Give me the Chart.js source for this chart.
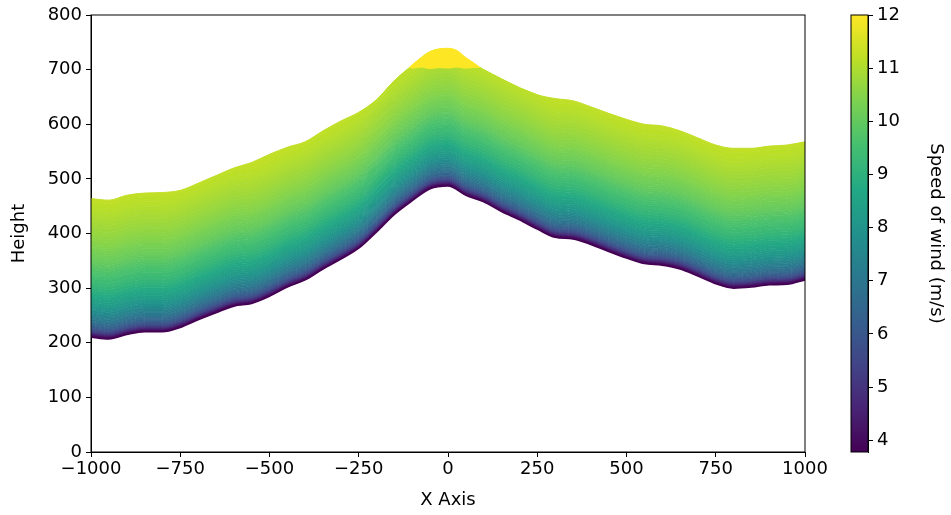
<!DOCTYPE html>
<html>
<head>
<meta charset="utf-8">
<script src="https://cdn.jsdelivr.net/npm/chart.js@4.4.1/dist/chart.umd.min.js"></script>
<style>
  body { margin: 0; background: #fff; }
  #wrap { position: relative; width: 951px; height: 515px; }
  #wrap canvas { position: absolute; left: 0; top: 0; }
</style>
</head>
<body>
<div id="wrap">
  <canvas id="main" width="951" height="515"></canvas>
  <canvas id="cbar" width="951" height="515"></canvas>
</div>
<script>
// horizontal positions along the section
const xs = [-1000, -950, -900, -850, -800, -750, -700, -650, -600, -550, -500, -450, -400, -350, -300,
  -250, -200, -150, -100, -50, 0, 50, 100, 150, 200, 250, 300, 350, 400, 450, 500,
  550, 600, 650, 700, 750, 800, 850, 900, 950, 1000];
// terrain (bottom of the coloured field)
const ground = [210, 207, 215, 220, 220, 228, 242, 255, 267, 272, 285, 302, 315, 335, 353,
  373, 403, 435, 460, 482, 487, 470, 458, 440, 425, 408, 393, 390, 380, 367, 355,
  345, 342, 335, 322, 308, 300, 302, 306, 307, 315];
// top of the coloured field
const topEdge = [464, 461, 470, 474, 475, 479, 492, 506, 520, 530, 545, 558, 568, 588, 606,
  622, 645, 680, 708, 733, 738, 720, 700, 683, 667, 654, 647, 643, 632, 620, 609,
  600, 597, 588, 575, 562, 556, 556, 560, 562, 568];

// wind speed contour levels (m/s) and their height above the ground
const windLevels = [4.0, 4.125, 4.25, 4.375, 4.5, 4.625, 4.75, 4.875, 5.0, 5.125, 5.25, 5.375,
  5.5, 5.625, 5.75, 5.875, 6.0, 6.125, 6.25, 6.375, 6.5, 6.625, 6.75, 6.875, 7.0, 7.125, 7.25,
  7.375, 7.5, 7.625, 7.75, 7.875, 8.0, 8.125, 8.25, 8.375, 8.5, 8.625, 8.75, 8.875, 9.0, 9.125,
  9.25, 9.375, 9.5, 9.5625, 9.625, 9.6875, 9.75, 9.8125, 9.875, 9.9375, 10.0, 10.0625, 10.125,
  10.1875, 10.25, 10.3125, 10.375, 10.4375, 10.5, 10.5625, 10.625, 10.6875, 10.75, 10.8125,
  10.875, 10.9375, 11.0, 11.0625, 11.125, 11.1875];
const levelHeights = [1.5, 2.2, 2.9, 3.5, 4.0, 4.8, 5.5, 6.2, 7.0, 7.8, 8.7, 9.6,
  10.5, 11.7, 12.9, 14.2, 15.5, 17, 18.6, 20.3, 22, 24, 26, 28, 30, 32.5, 35,
  37.5, 40, 43.5, 45.5, 49, 52, 55.5, 59, 63, 67, 71.5, 76, 80.5, 85, 90.5,
  96, 102, 108, 112, 116, 119.5, 123, 126, 129, 132, 135, 139, 143,
  147.5, 152, 156.5, 161, 165.5, 170, 176, 182, 188.5, 195, 201.5,
  208, 215, 222, 230, 238, 247];
const topSpeed = 11.22;

// yellow cap over the summit
const capXs = [-110, -100, -75, -50, -25, 0, 25, 50, 75, 90];
const capBase = [703, 702, 704, 701, 703, 702, 704, 702, 703, 703];
const capTop = [703, 709, 722, 733, 738, 739, 735, 722, 711, 703];
const capSpeed = 12;

// axis ticks
const xTicks = [-1000, -750, -500, -250, 0, 250, 500, 750, 1000];
const yTicks = [0, 100, 200, 300, 400, 500, 600, 700, 800];
const cbTicks = [4, 5, 6, 7, 8, 9, 10, 11, 12];
const cbMin = 3.78, cbMax = 12;

const viridisStops = ['#440154', '#482475', '#414487', '#355f8d', '#2a788e', '#21918c',
  '#22a884', '#44bf70', '#7ad151', '#bddf26', '#fde725'];

function hexRgb(h) {
  return [parseInt(h.slice(1, 3), 16), parseInt(h.slice(3, 5), 16), parseInt(h.slice(5, 7), 16)];
}
function viridis(t) {
  t = Math.max(0, Math.min(1, t));
  const p = t * (viridisStops.length - 1);
  const i = Math.min(Math.floor(p), viridisStops.length - 2);
  const f = p - i;
  const a = hexRgb(viridisStops[i]), b = hexRgb(viridisStops[i + 1]);
  const c = a.map((v, k) => Math.round(v + (b[k] - v) * f));
  return `rgb(${c[0]},${c[1]},${c[2]})`;
}
const speedColor = s => viridis((s - cbMin) / (cbMax - cbMin));

Chart.defaults.font.family = 'DejaVu Sans';
Chart.defaults.font.size = 18;
Chart.defaults.color = '#000';

const lineBase = { pointRadius: 0, cubicInterpolationMode: 'monotone' };

const datasets = [];
// cap (index 0, 1) drawn on top of everything
datasets.push({ ...lineBase, label: 'capBase', data: capXs.map((x, i) => ({ x, y: capBase[i] })),
  borderWidth: 0, fill: false });
datasets.push({ ...lineBase, label: 'cap', data: capXs.map((x, i) => ({ x, y: capTop[i] })),
  borderWidth: 1, borderColor: speedColor(capSpeed), backgroundColor: speedColor(capSpeed), fill: '-1' });
// terrain line
datasets.push({ ...lineBase, label: 'ground', data: xs.map((x, i) => ({ x, y: ground[i] })),
  borderWidth: 1.5, borderColor: '#440154', fill: false });
// contour bands
windLevels.forEach((lv, k) => {
  const prev = k === 0 ? cbMin : windLevels[k - 1];
  const col = speedColor((prev + lv) / 2);
  datasets.push({ ...lineBase, label: 'level ' + lv,
    data: xs.map((x, i) => ({ x, y: Math.min(ground[i] + levelHeights[k], topEdge[i]) })),
    borderWidth: 1, borderColor: col, backgroundColor: col, fill: '-1' });
});
datasets.push({ ...lineBase, label: 'top', data: xs.map((x, i) => ({ x, y: topEdge[i] })),
  borderWidth: 1, borderColor: speedColor(topSpeed), backgroundColor: speedColor(topSpeed), fill: '-1' });

const frame = {
  id: 'frame',
  afterDraw(chart) {
    const a = chart.chartArea, ctx = chart.ctx;
    ctx.save();
    ctx.strokeStyle = '#000';
    ctx.lineWidth = 1;
    ctx.strokeRect(a.left, a.top, a.right - a.left, a.bottom - a.top);
    ctx.restore();
  }
};

const minus = v => (v < 0 ? '\u2212' + Math.abs(v) : String(v));
const axisGrid = { display: true, drawOnChartArea: false, drawTicks: true, tickLength: 5, color: '#000' };

new Chart(document.getElementById('main'), {
  type: 'line',
  data: { datasets },
  options: {
    responsive: false,
    devicePixelRatio: 1,
    animation: false,
    layout: { padding: { left: 0, top: 15, right: 146, bottom: 0 } },
    plugins: { legend: { display: false }, tooltip: { enabled: false } },
    scales: {
      x: {
        type: 'linear', min: -1000, max: 1000,
        afterBuildTicks: s => { s.ticks = xTicks.map(v => ({ value: v })); },
        afterFit: s => { s.height = 63; },
        ticks: { callback: minus, padding: 2, maxRotation: 0 },
        grid: axisGrid,
        border: { color: '#000', width: 1 },
        title: { display: true, text: 'X Axis', padding: { top: 0, bottom: 4 } }
      },
      y: {
        type: 'linear', min: 0, max: 800,
        afterBuildTicks: s => { s.ticks = yTicks.map(v => ({ value: v })); },
        afterFit: s => { s.width = 91; },
        ticks: { padding: 4 },
        grid: axisGrid,
        border: { color: '#000', width: 1 },
        title: { display: true, text: 'Height', padding: { top: 9, bottom: 0 } }
      }
    }
  },
  plugins: [frame]
});

// colour bar
new Chart(document.getElementById('cbar'), {
  type: 'bar',
  data: {
    labels: ['wind'],
    datasets: [{
      data: [[cbMin, cbMax]],
      barPercentage: 1,
      categoryPercentage: 1,
      borderWidth: 0,
      backgroundColor: c => {
        const a = c.chart.chartArea;
        if (!a) return '#21918c';
        const g = c.chart.ctx.createLinearGradient(0, a.bottom, 0, a.top);
        viridisStops.forEach((h, i) => g.addColorStop(i / (viridisStops.length - 1), h));
        return g;
      }
    }]
  },
  options: {
    responsive: false,
    devicePixelRatio: 1,
    animation: false,
    layout: { padding: { left: 851, top: 15, right: 0, bottom: 63 } },
    plugins: { legend: { display: false }, tooltip: { enabled: false } },
    scales: {
      x: { display: false },
      y: {
        position: 'right', min: cbMin, max: cbMax,
        afterBuildTicks: s => { s.ticks = cbTicks.map(v => ({ value: v })); },
        afterFit: s => { s.width = 83; },
        ticks: { padding: 4 },
        grid: axisGrid,
        border: { color: '#000', width: 1 },
        title: { display: true, text: 'Speed of wind (m/s)', padding: { top: 5, bottom: 0 } }
      }
    }
  },
  plugins: [frame]
});
</script>
</body>
</html>
